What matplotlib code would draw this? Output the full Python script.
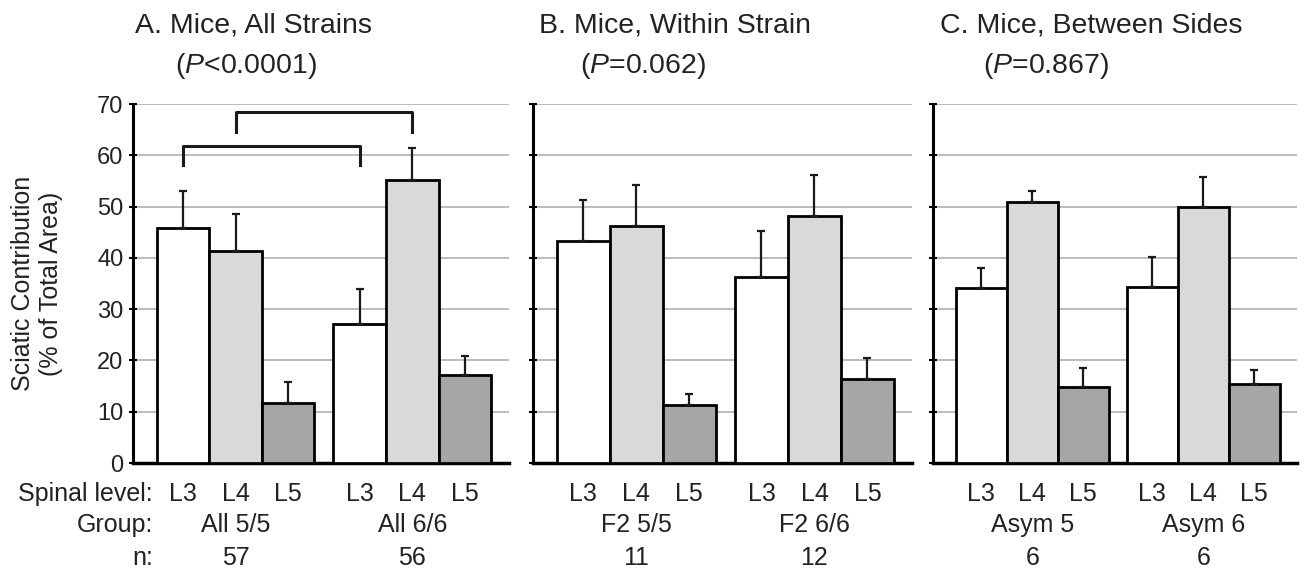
import numpy as np
import matplotlib.pyplot as plt

plt.rcParams['font.family'] = ['Liberation Sans', 'DejaVu Sans']
plt.rcParams['mathtext.fontset'] = 'custom'
plt.rcParams['mathtext.rm'] = 'Liberation Sans'
plt.rcParams['mathtext.it'] = 'Liberation Sans:italic'

# data: mean and top of error bar, order L3, L4, L5 for group 1 then group 2
levels = ['L3', 'L4', 'L5']
titles = ['A. Mice, All Strains', 'B. Mice, Within Strain', 'C. Mice, Between Sides']
pvals = ['($\\mathit{P}$<0.0001)', '($\\mathit{P}$=0.062)', '($\\mathit{P}$=0.867)']
groups = [['All 5/5', 'All 6/6'], ['F2 5/5', 'F2 6/6'], ['Asym 5', 'Asym 6']]
n_values = [['57', '56'], ['11', '12'], ['6', '6']]
row_names = ['Spinal level:', 'Group:', 'n:']

means_a = [45.9, 41.4, 11.7, 27.2, 55.2, 17.1]
tops_a = [53.0, 48.5, 15.7, 34.0, 61.5, 20.8]
means_b = [43.2, 46.2, 11.3, 36.3, 48.2, 16.4]
tops_b = [51.2, 54.2, 13.4, 45.3, 56.2, 20.4]
means_c = [34.1, 50.9, 14.9, 34.4, 49.9, 15.4]
tops_c = [38.0, 53.1, 18.6, 40.1, 55.7, 18.1]
means = [means_a, means_b, means_c]
tops = [tops_a, tops_b, tops_c]

# significance brackets in panel A: (bar i, bar j, top, drop)
brackets = [(0, 3, 61.9, 58.1), (1, 4, 68.5, 64.6)]

colors = ['white', '#d9d9d9', '#a6a6a6'] * 2
x = np.array([0, 1, 2, 3.36, 4.36, 5.36])

fig = plt.figure(figsize=(13.06, 5.72), dpi=100)
W, H = 1306, 572
boxes = [(133, 509), (533, 912), (933, 1297)]
title_x = [0.005, 0.016, 0.019]
p_x = [0.112, 0.124, 0.137]
y0, y70 = 463, 104
row_y = [-7.4, -13.45, -19.9]   # baselines of the three label rows (data units)
fs = 18

for k in range(3):
    l, r = boxes[k]
    ax = fig.add_axes([l / W, (H - y0) / H, (r - l) / W, (y0 - y70) / H])
    m = np.array(means[k])
    t = np.array(tops[k])
    ax.bar(x, m, width=1.0, color=colors, edgecolor='black', linewidth=2, zorder=3)
    ax.errorbar(x, m, yerr=[np.zeros(6), t - m], fmt='none', ecolor='#1a1a1a',
                elinewidth=1.6, capsize=3, capthick=1.6, zorder=4)
    ax.set_xlim(-0.95, 6.2)
    ax.set_ylim(0, 70)
    ax.set_yticks(range(0, 71, 10))
    ax.yaxis.grid(True, color='#b0b0b0', linewidth=1.2, zorder=0)
    ax.set_axisbelow(True)
    ax.set_xticks([])
    for s in ['top', 'right']:
        ax.spines[s].set_visible(False)
    ax.spines['left'].set_linewidth(2.2)
    ax.spines['bottom'].set_linewidth(2.5)
    ax.tick_params(axis='y', direction='inout', length=6, width=1.5, labelsize=17, pad=4,
                   labelcolor='#222222')
    if k > 0:
        ax.tick_params(axis='y', labelleft=False)

    # level, group and n labels under the bars
    for i in range(6):
        ax.text(x[i], row_y[0], levels[i % 3], ha='center', va='baseline', fontsize=fs,
                color='#222222', clip_on=False)
    for g in range(2):
        gc = x[g * 3 + 1]
        ax.text(gc, row_y[1], groups[k][g], ha='center', va='baseline', fontsize=fs,
                color='#222222', clip_on=False)
        ax.text(gc, row_y[2], n_values[k][g], ha='center', va='baseline', fontsize=fs,
                color='#222222', clip_on=False)

    ax.text(title_x[k], 1.198, titles[k], transform=ax.transAxes, ha='left', va='baseline',
            fontsize=20.5, color='#222222')
    ax.text(p_x[k], 1.086, pvals[k], transform=ax.transAxes, ha='left', va='baseline',
            fontsize=20.5, color='#222222')

    if k == 0:
        for name, yy in zip(row_names, row_y):
            ax.text(0.053, yy, name, ha='right', va='baseline', fontsize=fs, color='#222222',
                    transform=ax.get_yaxis_transform(), clip_on=False)
        for i, j, top, drop in brackets:
            ax.plot([x[i], x[i], x[j], x[j]], [drop, top, top, drop], color='#1a1a1a',
                    linewidth=2.2, zorder=5)

fig.text(37 / W, (H - 283.5) / H, 'Sciatic Contribution\n(% of Total Area)', rotation=90,
         ha='center', va='center', fontsize=18, color='#222222', multialignment='center')

fig.savefig('out.png', dpi=100)
